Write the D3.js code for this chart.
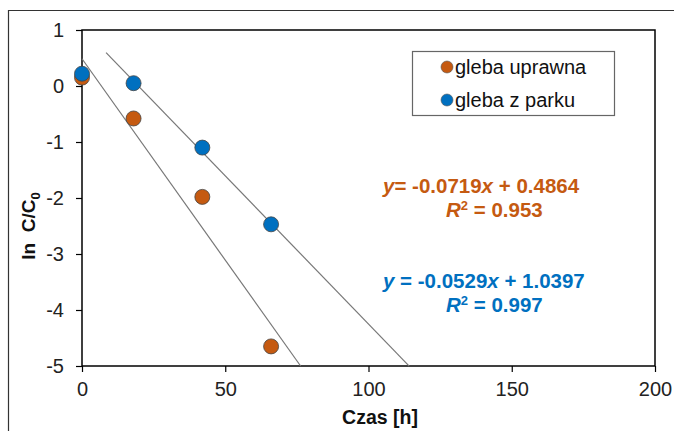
<!DOCTYPE html>
<html>
<head>
<meta charset="utf-8">
<script src="https://cdn.jsdelivr.net/npm/d3@7"></script>
<style>
  body { margin: 0; background: #fff; }
  text { font-family: "Liberation Sans", Arial, sans-serif; }
</style>
</head>
<body>
<script>
// data
var time = [0, 18, 42, 66];
var uprawna = [0.15, -0.58, -1.98, -4.65];
var park = [0.22, 0.05, -1.1, -2.47];
var xTicks = [0, 50, 100, 150, 200];
var yTicks = [1, 0, -1, -2, -3, -4, -5];
// trend lines: [slope, intercept, xStart, xEnd]
var fitUprawna = [-0.0719, 0.4864, 0, 76.3];
var fitPark = [-0.0529, 1.0397, 8.4, 114.2];

var orange = '#C55A11';
var blue = '#0070C0';

var svg = d3.select('body').append('svg')
  .attr('width', 674)
  .attr('height', 431);

// outer frame (top + left only visible)
svg.append('path')
  .attr('d', 'M8.5,431 L8.5,10.5 L674,10.5')
  .attr('fill', 'none')
  .attr('stroke', '#333')
  .attr('stroke-width', 1.2);

var x = d3.scaleLinear().domain([0, 200]).range([82, 655]);
var y = d3.scaleLinear().domain([-5, 1]).range([366, 30]);

// plot box
svg.append('rect')
  .attr('x', 82).attr('y', 30)
  .attr('width', 655 - 82).attr('height', 366 - 30)
  .attr('fill', 'none')
  .attr('stroke', '#000')
  .attr('stroke-width', 1.5);

var fmt = function(d) { return String(d); };
var xAxis = svg.append('g')
  .attr('transform', 'translate(0,366)')
  .call(d3.axisBottom(x).tickValues(xTicks).tickFormat(fmt).tickSize(6).tickPadding(10));
var yAxis = svg.append('g')
  .attr('transform', 'translate(82,0)')
  .call(d3.axisLeft(y).tickValues(yTicks).tickFormat(fmt).tickSize(6).tickPadding(12));

[xAxis, yAxis].forEach(function(a) {
  a.select('.domain').remove();
  a.selectAll('line').attr('stroke', '#000').attr('stroke-width', 1.2);
  a.selectAll('text')
    .attr('fill', '#222')
    .style('font-size', '20px')
    .style('font-family', '"Liberation Sans", Arial, sans-serif');
});

// trend lines
[fitUprawna, fitPark].forEach(function(f) {
  svg.append('line')
    .attr('x1', x(f[2])).attr('y1', y(f[0] * f[2] + f[1]))
    .attr('x2', x(f[3])).attr('y2', y(f[0] * f[3] + f[1]))
    .attr('stroke', '#777')
    .attr('stroke-width', 1.2);
});

// points
var series = [
  { vals: uprawna, color: orange },
  { vals: park, color: blue }
];
series.forEach(function(s) {
  svg.selectAll(null)
    .data(time)
    .enter()
    .append('circle')
    .attr('cx', function(d) { return x(d); })
    .attr('cy', function(d, i) { return y(s.vals[i]); })
    .attr('r', 7.5)
    .attr('fill', s.color)
    .attr('stroke', '#444')
    .attr('stroke-width', 0.8);
});

// legend
svg.append('rect')
  .attr('x', 412.5).attr('y', 51.5)
  .attr('width', 202).attr('height', 64)
  .attr('fill', '#fff')
  .attr('stroke', '#666')
  .attr('stroke-width', 1.2);
var legendItems = [
  { name: 'gleba uprawna', color: orange, y: 67 },
  { name: 'gleba z parku', color: blue, y: 100 }
];
legendItems.forEach(function(d) {
  svg.append('circle')
    .attr('cx', 447).attr('cy', d.y)
    .attr('r', 6)
    .attr('fill', d.color)
    .attr('stroke', '#555')
    .attr('stroke-width', 0.6);
  svg.append('text')
    .attr('x', 455).attr('y', d.y + 7)
    .style('font-size', '20px')
    .attr('fill', '#111')
    .text(d.name);
});

// equations
function equation(xPos, yPos, color, parts) {
  var t = svg.append('text')
    .attr('x', xPos).attr('y', yPos)
    .attr('fill', color)
    .style('font-size', '20.5px')
    .style('font-weight', 'bold');
  parts.forEach(function(p) {
    var ts = t.append('tspan').text(p[0]);
    if (p[1] === 'i') ts.style('font-style', 'italic');
    if (p[1] === 'sup') ts.attr('dy', -7).style('font-size', '13px');
    if (p[1] === 'down') ts.attr('dy', 7);
  });
  return t;
}
equation(383, 193, orange, [['y', 'i'], ['= -0.0719'], ['x', 'i'], [' + 0.4864']]);
equation(446, 217, orange, [['R', 'i'], ['2', 'sup'], [' = 0.953', 'down']]);
equation(383, 288, blue, [['y', 'i'], [' = -0.0529'], ['x', 'i'], [' + 1.0397']]);
equation(446, 312, blue, [['R', 'i'], ['2', 'sup'], [' = 0.997', 'down']]);

// axis titles
svg.append('text')
  .attr('x', 380).attr('y', 424)
  .attr('text-anchor', 'middle')
  .style('font-size', '19.5px')
  .style('font-weight', 'bold')
  .attr('fill', '#111')
  .text('Czas [h]');

var yl = svg.append('text')
  .attr('transform', 'translate(35,226) rotate(-90)')
  .attr('text-anchor', 'middle')
  .style('font-size', '19px')
  .style('font-weight', 'bold')
  .style('white-space', 'pre')
  .attr('fill', '#111');
yl.append('tspan').text('ln  C/C');
yl.append('tspan').attr('dy', 5).style('font-size', '13px').text('0');
</script>
</body>
</html>
